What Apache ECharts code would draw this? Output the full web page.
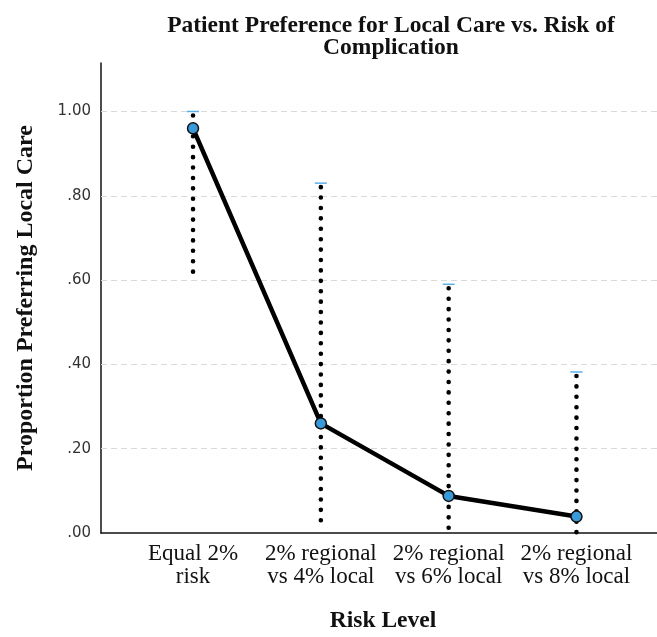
<!DOCTYPE html>
<html>
<head>
<meta charset="utf-8">
<title>Patient Preference for Local Care vs. Risk of Complication</title>
<script src="https://cdn.jsdelivr.net/npm/echarts@6/dist/echarts.min.js"></script>
<style>
  html, body { margin: 0; padding: 0; background: #ffffff; }
  #chart { width: 657px; height: 637px; }
</style>
</head>
<body>
<div id="chart"></div>
<script>
// Risk scenarios shown along the horizontal axis
const categories = [
  'Equal 2%\nrisk',
  '2% regional\nvs 4% local',
  '2% regional\nvs 6% local',
  '2% regional\nvs 8% local'
];
// Proportion of patients preferring local care
const proportion = [0.96, 0.26, 0.088, 0.039];
// Confidence interval bounds
const ciLow = [0.62, 0.02, 0.0, 0.0];
const ciHigh = [1.0, 0.83, 0.59, 0.382];
// Vertical axis ticks
const yTickValues = [0, 0.2, 0.4, 0.6, 0.8, 1.0];
const yTickLabels = ['.00', '.20', '.40', '.60', '.80', '1.00'];

const serif = '"Liberation Serif", "Times New Roman", serif';

const lineData = proportion.map((v, i) => [i, v]);
const ciData = ciLow.map((lo, i) => [i, lo, ciHigh[i]]);

// Dotted interval line with a short cap at the upper bound
function renderInterval(params, api) {
  const x = api.value(0);
  const top = api.coord([x, api.value(2)]);
  const bottom = api.coord([x, api.value(1)]);
  return {
    type: 'group',
    children: [
      {
        type: 'line',
        shape: { x1: top[0], y1: top[1] + 4, x2: bottom[0], y2: bottom[1] },
        style: { stroke: '#000000', lineWidth: 4.6, lineCap: 'round', lineDash: [0.01, 10.4] }
      },
      {
        type: 'line',
        shape: { x1: top[0] - 6, y1: top[1], x2: top[0] + 6, y2: top[1] },
        style: { stroke: '#5aaee6', lineWidth: 1.5 }
      }
    ]
  };
}

const chart = echarts.init(document.getElementById('chart'), null, { renderer: 'canvas' });
chart.setOption({
  animation: false,
  backgroundColor: '#ffffff',
  title: {
    text: 'Patient Preference for Local Care vs. Risk of\nComplication',
    left: 386,
    textAlign: 'center',
    top: 10,
    textStyle: { fontFamily: serif, fontWeight: 'bold', fontSize: 23.5, lineHeight: 22, color: '#111111' }
  },
  grid: { left: 101, right: 0, top: 63, bottom: 104, outerBoundsMode: 'none' },
  xAxis: {
    type: 'value',
    min: -0.72,
    max: 3.63,
    name: 'Risk Level',
    nameLocation: 'middle',
    nameGap: 76,
    nameTextStyle: { fontFamily: serif, fontWeight: 'bold', fontSize: 23.5, color: '#111111', padding: [0, 0, 0, 8] },
    axisLine: { onZero: false, lineStyle: { color: '#111111', width: 1.5 } },
    axisTick: { show: false },
    splitLine: { show: false },
    axisLabel: {
      customValues: [0, 1, 2, 3],
      formatter: v => categories[Math.round(v)],
      fontFamily: serif,
      fontSize: 23,
      lineHeight: 23,
      color: '#111111',
      margin: 9
    }
  },
  yAxis: {
    type: 'value',
    min: 0,
    max: 1.115,
    name: 'Proportion Preferring Local Care',
    nameLocation: 'middle',
    nameGap: 63,
    nameTextStyle: { fontFamily: serif, fontWeight: 'bold', fontSize: 24, color: '#111111' },
    axisLine: { show: true, onZero: false, lineStyle: { color: '#111111', width: 1.5 } },
    axisTick: { show: false },
    splitLine: { show: false },
    axisLabel: {
      customValues: yTickValues,
      formatter: v => yTickLabels[Math.round(v / 0.2)],
      fontFamily: '"DejaVu Sans", sans-serif',
      fontSize: 15,
      color: '#333333',
      margin: 10
    }
  },
  series: [
    {
      type: 'custom',
      renderItem: renderInterval,
      data: ciData,
      encode: { x: 0, y: [1, 2] },
      z: 2,
      silent: true
    },
    {
      type: 'line',
      data: lineData,
      z: 3,
      symbol: 'circle',
      symbolSize: 11,
      lineStyle: { color: '#000000', width: 4.5 },
      itemStyle: { color: '#3a9ad9', borderColor: '#111111', borderWidth: 1.5 },
      markLine: {
        silent: true,
        symbol: 'none',
        label: { show: false },
        lineStyle: { color: '#d9d9d9', type: [6, 4], width: 1 },
        data: yTickValues.filter(v => v > 0).map(v => ({ yAxis: v })),
        z: 1
      }
    }
  ]
});
</script>
</body>
</html>
